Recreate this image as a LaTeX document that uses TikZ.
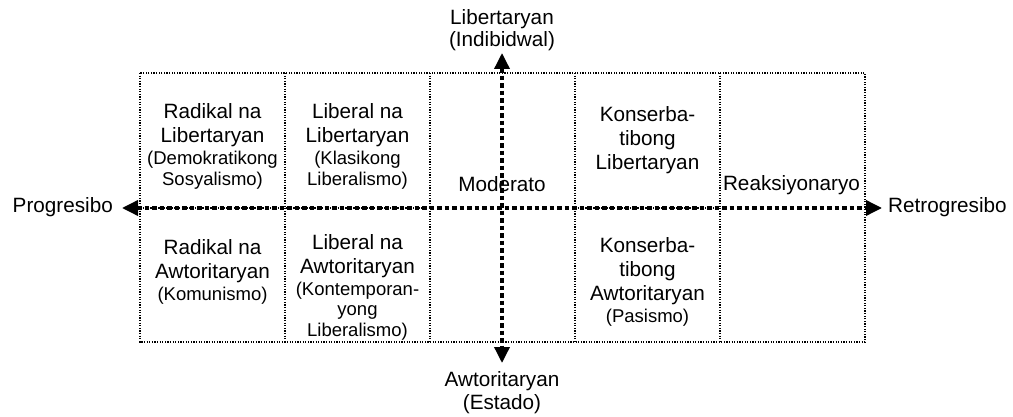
\documentclass[tikz,border=0pt]{standalone}
\usepackage{fontspec}
\setmainfont{Liberation Sans}
\usetikzlibrary{arrows.meta}
\newcommand\smtxt[1]{{\fontsize{18.5}{20.5}\selectfont #1}}
\begin{document}
\begin{tikzpicture}[x=1pt,y=-1pt,
  cell/.style={draw, line width=1.3pt, dash pattern=on 1.3pt off 1.3pt},
  axis/.style={line width=3.5pt, dash pattern=on 4.5pt off 3pt,
    {Triangle[length=16pt,width=15pt]}-{Triangle[length=16pt,width=15pt]}},
  lbl/.style={align=center, inner sep=0pt, font=\fontsize{20.7}{24}\selectfont}
]
\useasboundingbox (0,0) rectangle (1013,417);
% grid
\draw[cell] (140,73) rectangle (865,342);
\draw[cell] (285,73) -- (285,342);
\draw[cell] (430,73) -- (430,342);
\draw[cell] (575,73) -- (575,342);
\draw[cell] (720,73) -- (720,342);
\draw[cell] (140,208) -- (430,208);
\draw[cell] (575,208) -- (720,208);
% axes
\coordinate (W) at (122,208);
\coordinate (E) at (882,208);
\coordinate (N) at (502,53);
\coordinate (S) at (502,363);
\draw[axis] (W) -- (E);
\draw[axis] (N) -- (S);
% axis labels
\node[lbl] (lib) at (502,30) {Libertaryan\\[-2pt](Indibidwal)};
\node[lbl] (awt) at (502,393) {Awtoritaryan\\[-1pt](Estado)};
\node[lbl, anchor=base east] (pro) at (113,213) {Progresibo};
\node[lbl, anchor=base west] (ret) at (888,213) {Retrogresibo};
% cell labels
\node[lbl] (tl) at (212.5,146.5) {Radikal na\\Libertaryan\\[-2pt]\smtxt{(Demokratikong}\\[-3.5pt]\smtxt{Sosyalismo)}};
\node[lbl] (tm) at (357.5,146.5) {Liberal na\\Libertaryan\\[-2pt]\smtxt{(Klasikong}\\[-3.5pt]\smtxt{Liberalismo)}};
\node[lbl] (tr) at (647.5,140) {Konserba-\\tibong\\Libertaryan};
\node[lbl] (bl) at (212.5,272) {Radikal na\\Awtoritaryan\\[-2pt]\smtxt{(Komunismo)}};
\node[lbl] (bm) at (357.5,287) {Liberal na\\Awtoritaryan\\[-2pt]\smtxt{(Kontemporan-}\\[-3.5pt]\smtxt{yong}\\[-3.5pt]\smtxt{Liberalismo)}};
\node[lbl] (br) at (647.5,282) {Konserba-\\tibong\\Awtoritaryan\\[-2pt]\smtxt{(Pasismo)}};
\node[lbl, anchor=base] (mod) at (502,192) {Moderato};
\node[lbl, anchor=base] (rea) at (791.5,191) {Reaksiyonaryo};
\end{tikzpicture}
\end{document}
